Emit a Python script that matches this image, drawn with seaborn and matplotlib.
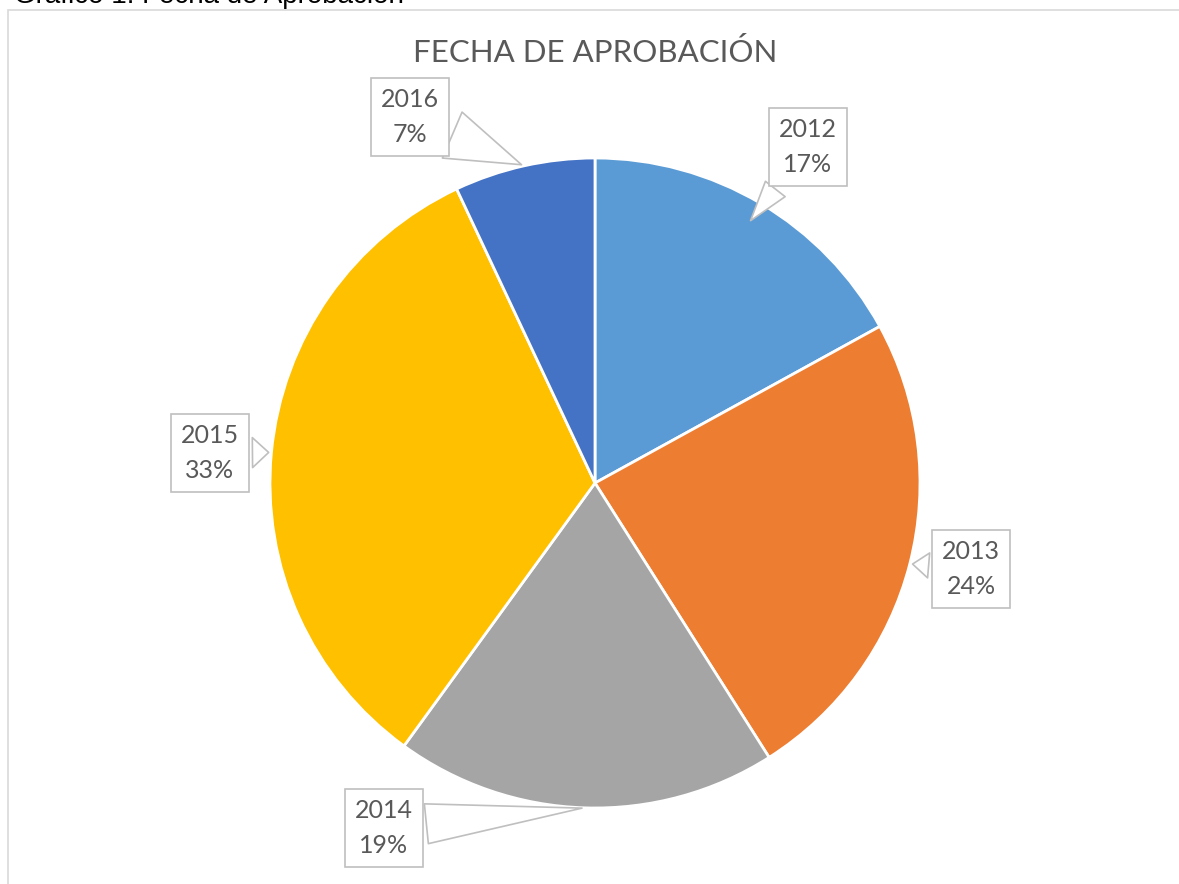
import numpy as np
import seaborn as sns
import matplotlib.pyplot as plt
from matplotlib.patches import Rectangle

sns.set_theme(style="white")
plt.rcParams['font.family'] = ['Lato', 'DejaVu Sans']

years = ['2012', '2013', '2014', '2015', '2016']
shares = [17, 24, 19, 33, 7]
colors = ['#5B9BD5', '#ED7D31', '#A5A5A5', '#FFC000', '#4472C4']

# label box centres (pixels) and callout tip radius
W, H = 1179, 884
cx, cy, R = 595, 483, 325
label_px = [(808, 147), (971, 569), (384, 828), (210, 453), (410, 117)]
tip_r = [0.93, 1.0, 1.0, 1.0, 1.0]
tail_w = [1.0, 1.0, 1.6, 1.2, 2.0]

fig = plt.figure(figsize=(W / 100, H / 100), dpi=100)
ax = fig.add_axes([0, 0, 1, 1])

# chart frame
fig.patches.append(Rectangle((8 / W, -0.1), 1.2, 1 - 10 / H + 0.1, transform=fig.transFigure,
                             fill=False, edgecolor='#D9D9D9', linewidth=1.2))

wedges, _ = ax.pie(shares, colors=colors, startangle=90, counterclock=False, radius=1,
                   wedgeprops=dict(edgecolor='white', linewidth=2))
ax.set_xlim(-cx / R, (W - cx) / R)
ax.set_ylim((cy - H) / R, cy / R)
ax.set_aspect('equal')
ax.axis('off')

for w, yr, s, (px, py), tr, tw in zip(wedges, years, shares, label_px, tip_r, tail_w):
    mid = np.deg2rad((w.theta1 + w.theta2) / 2)
    tip = (tr * np.cos(mid), tr * np.sin(mid))
    pos = ((px - cx) / R, (cy - py) / R)
    ax.annotate(f'{yr}\n{s}%', xy=tip, xytext=pos, ha='center', va='center',
                fontsize=18, color='#595959', linespacing=1.65,
                bbox=dict(boxstyle='square,pad=0.4', fc='white', ec='#BFBFBF', lw=1.2),
                arrowprops=dict(arrowstyle=f'wedge,tail_width={tw},shrink_factor=0.5',
                                fc='white', ec='#BFBFBF', lw=1.2))

fig.text(595 / W, 1 - 52 / H, 'FECHA DE APROBACIÓN', ha='center', va='center',
         fontsize=22.5, color='#595959')
fig.text(14 / W, 1 - 3 / H, 'Gráfico 1: Fecha de Aprobación', ha='left', va='baseline',
         fontsize=20, color='black', family=['Liberation Sans'])

fig.savefig('out.png', dpi=100)
